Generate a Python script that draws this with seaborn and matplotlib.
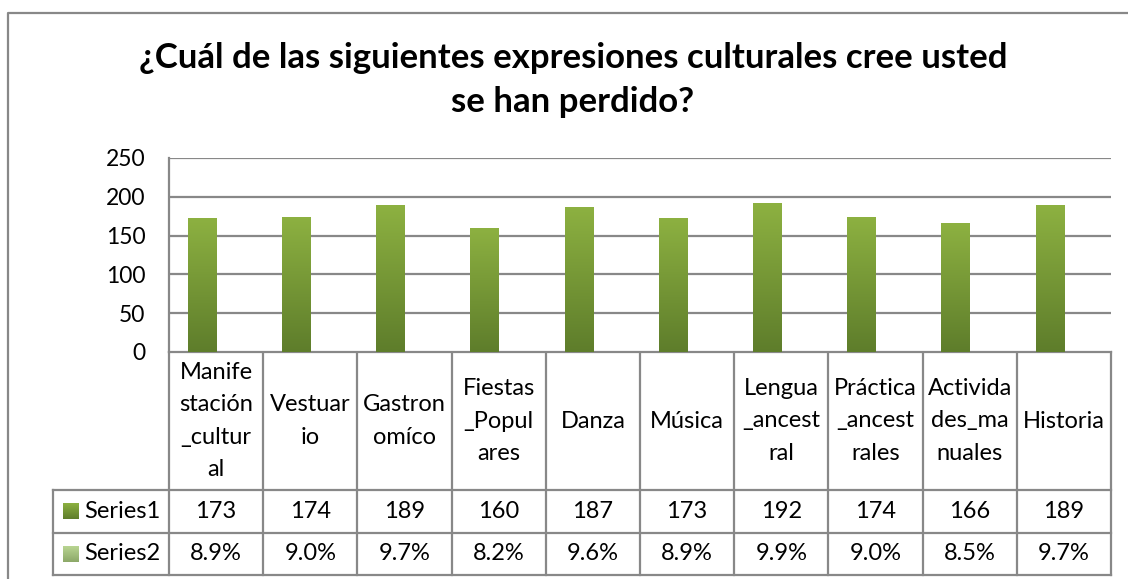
import numpy as np
import pandas as pd
import matplotlib.pyplot as plt
import seaborn as sns
from matplotlib.colors import LinearSegmentedColormap

# Data
categories = [
    "Manifestación_cultural", "Vestuario", "Gastronomíco", "Fiestas_Populares",
    "Danza", "Música", "Lengua_ancestral", "Práctica_ancestrales",
    "Actividades_manuales", "Historia",
]
# category labels as they are wrapped inside the data table
category_labels = [
    "Manife\nstación\n_cultur\nal", "Vestuar\nio", "Gastron\nomíco",
    "Fiestas\n_Popul\nares", "Danza", "Música", "Lengua\n_ancest\nral",
    "Práctica\n_ancest\nrales", "Activida\ndes_ma\nnuales", "Historia",
]
series1 = [173, 174, 189, 160, 187, 173, 192, 174, 166, 189]
series2 = [8.9, 9.0, 9.7, 8.2, 9.6, 8.9, 9.9, 9.0, 8.5, 9.7]  # percent
series_names = ["Series1", "Series2"]
title = "¿Cuál de las siguientes expresiones culturales cree usted\nse han perdido?"

# gradient colours (top, bottom) for each series
grad_colors = {
    "Series1": ("#8DB141", "#5E7D2B"),
    "Series2": ("#B9D592", "#8CA868"),
}
grid_gray = "#888888"
fs = 17

df = pd.DataFrame({
    "categoria": categories * 2,
    "serie": [series_names[0]] * len(categories) + [series_names[1]] * len(categories),
    "valor": series1 + [v / 100 for v in series2],
})

sns.set_theme(style="white")
plt.rcParams["font.family"] = ["Lato", "DejaVu Sans"]

W, H = 1128, 579
fig = plt.figure(figsize=(W / 100, H / 100), dpi=100)
ax = fig.add_axes([169 / W, 1 - 352 / H, (1111 - 169) / W, (352 - 158) / H])

sns.barplot(
    data=df, x="categoria", y="valor", hue="serie", hue_order=series_names,
    palette=[grad_colors[s][1] for s in series_names], width=0.6, gap=0,
    linewidth=0, legend=False, ax=ax,
)

# vertical gradient fill on each bar
grad = np.linspace(0, 1, 256).reshape(-1, 1)
for cont, name in zip(ax.containers, series_names):
    cmap = LinearSegmentedColormap.from_list(name, [grad_colors[name][1], grad_colors[name][0]])
    for p in cont.patches:
        x0, y0 = p.get_x(), p.get_y()
        im = ax.imshow(grad, extent=[x0, x0 + p.get_width(), y0, y0 + p.get_height()],
                       origin="lower", cmap=cmap, aspect="auto", zorder=p.get_zorder() + 0.1)
        im.set_clip_path(p)

ax.set_xlim(-0.5, len(categories) - 0.5)
ax.set_ylim(0, 250)
ax.set_yticks(range(0, 251, 50))
ax.set_xticks([])
ax.set_xlabel("")
ax.set_ylabel("")
ax.tick_params(axis="y", labelsize=16.5, colors="black", length=0, pad=17)
ax.yaxis.grid(True, color=grid_gray, linewidth=1.6)
ax.set_axisbelow(True)
for side in ["top", "right", "bottom"]:
    ax.spines[side].set_visible(False)
ax.spines["left"].set_color(grid_gray)
ax.spines["left"].set_linewidth(1.6)

# overlay in pixel units for the data table and chart frame
ov = fig.add_axes([0, 0, 1, 1], zorder=-1)
ov.set_xlim(0, W)
ov.set_ylim(H, 0)
ov.axis("off")
ov.patch.set_alpha(0)

# column boundaries in pixels from the bar axes
to_px = lambda xd: ax.transData.transform((xd, 0))[0]
cols = [to_px(i - 0.5) for i in range(len(categories) + 1)]
y_top = H - ax.transData.transform((0, 0))[1]
row_bottoms = [y_top + 138, y_top + 181, y_top + 223]
x_leg = 53

lkw = dict(color=grid_gray, linewidth=1.6, solid_capstyle="projecting")
for xc in cols:
    ov.plot([xc, xc], [y_top, row_bottoms[-1]], **lkw)
ov.plot([cols[0], cols[-1]], [y_top, y_top], **lkw)
for yb in row_bottoms:
    ov.plot([x_leg, cols[-1]], [yb, yb], **lkw)
ov.plot([x_leg, x_leg], [row_bottoms[0], row_bottoms[-1]], **lkw)

# category labels
for i, lab in enumerate(category_labels):
    xc = (cols[i] + cols[i + 1]) / 2
    ov.text(xc, (y_top + row_bottoms[0]) / 2, lab, ha="center", va="center",
            fontsize=fs, linespacing=1.68, color="black")

# series rows
rows = [[str(v) for v in series1], [f"{v:.1f}%" for v in series2]]
for r, name in enumerate(series_names):
    yc = (row_bottoms[r] + row_bottoms[r + 1]) / 2
    for i, txt in enumerate(rows[r]):
        xc = (cols[i] + cols[i + 1]) / 2
        ov.text(xc, yc, txt, ha="center", va="center", fontsize=fs, color="black")
    # legend key with gradient
    cmap = LinearSegmentedColormap.from_list(name + "k", [grad_colors[name][1], grad_colors[name][0]])
    ov.imshow(grad, extent=[x_leg + 10, x_leg + 26, yc + 8, yc - 8], origin="lower",
              cmap=cmap, aspect="auto")
    ov.text(x_leg + 31, yc, name, ha="left", va="center", fontsize=fs, color="black")
ov.set_xlim(0, W)
ov.set_ylim(H, 0)

# outer chart frame
ov.plot([8, 8, W + 5], [H + 5, 13, 13], color=grid_gray, linewidth=1.6)

fig.text(573 / W, 1 - 80 / H, title, ha="center", va="center", fontsize=25,
         fontweight="bold", linespacing=1.45, color="black")

fig.savefig("out.png", dpi=100)
